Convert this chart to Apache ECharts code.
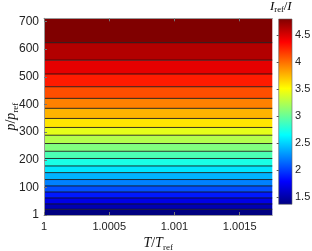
<!DOCTYPE html>
<html>
<head>
<meta charset="utf-8">
<script src="https://cdn.jsdelivr.net/npm/echarts@6/dist/echarts.min.js"></script>
<style>html,body{margin:0;padding:0;background:#fff;}#c{width:312px;height:251px;}</style>
</head>
<body>
<div id="c"></div>
<script>
// p/p_ref band edges (contour levels positions), bottom to top
var bandEdges = [1, 21.7, 41, 62.5, 84, 106, 129, 154, 178, 205, 231, 259, 289, 317, 349.5, 386, 422, 464, 510, 560, 623, 711];
// I_ref/I value of each filled band
var bandValues = [1.37, 1.54, 1.71, 1.88, 2.06, 2.23, 2.40, 2.57, 2.74, 2.91, 3.09, 3.26, 3.43, 3.60, 3.77, 3.94, 4.11, 4.28, 4.46, 4.63, 4.80];
var xRange = [1, 1.00175];
var yRange = [1, 711];
var xTicks = [1, 1.0005, 1.001, 1.0015];
var xTickLabels = ['1', '1.0005', '1.001', '1.0015'];
var yTicks = [1, 100, 200, 300, 400, 500, 600, 700];
var cbRange = [1.37, 4.8];
var cbTicks = [1.5, 2, 2.5, 3, 3.5, 4, 4.5];
var jet = ['#000080', '#0000FF', '#0080FF', '#00FFFF', '#80FF80', '#FFFF00', '#FF8000', '#FF0000', '#800000'];

var bandData = [];
for (var i = 0; i < bandValues.length; i++) {
  bandData.push([bandEdges[i], bandEdges[i + 1], bandValues[i]]);
}

var chart = echarts.init(document.getElementById('c'), null, {renderer: 'canvas'});
var serif = 'Liberation Serif';
var sans = 'Liberation Sans';

var stops = [];
for (var k = 0; k < jet.length; k++) {
  stops.push({offset: 1 - k / (jet.length - 1), color: jet[k]});
}
stops.reverse();

var richTitle = function (size, subSize, lh) {
  return {
    it: {fontFamily: serif, fontStyle: 'italic', fontSize: size, lineHeight: lh, color: '#111'},
    rm: {fontFamily: serif, fontSize: size, lineHeight: lh, color: '#111'},
    sub: {fontFamily: serif, fontSize: subSize, lineHeight: subSize, verticalAlign: 'bottom', color: '#111'}
  };
};

var option = {
  animation: false,
  grid: [
    {left: 44, top: 18.3, right: 39.7, bottom: 36, containLabel: false, outerBoundsMode: 'none'},
    {left: 278.7, width: 13.3, top: 19, bottom: 46.7, containLabel: false, outerBoundsMode: 'none'}
  ],
  graphic: [{
    type: 'text', left: 270, top: 0, z: 10,
    style: {
      text: '{it|I}{sub|ref}{rm|/}{it|I}',
      rich: richTitle(13, 8.5, 16)
    }
  }],
  xAxis: [
    {
      type: 'value', gridIndex: 0, min: xRange[0], max: xRange[1], z: 5,
      axisLine: {show: true, lineStyle: {color: '#999', width: 1}},
      axisTick: {show: true, inside: true, length: 3, lineStyle: {color: '#777'}, customValues: xTicks},
      axisLabel: {
        color: '#222', fontFamily: sans, fontSize: 11, margin: 6, customValues: xTicks, showMinLabel: true, showMaxLabel: true,
        formatter: function (v) { var idx = xTicks.indexOf(v); return idx >= 0 ? xTickLabels[idx] : ''; }
      },
      splitLine: {show: false},
      name: '{it|T}{rm|/}{it|T}{sub|ref}', nameLocation: 'middle', nameGap: 19, nameMoveOverlap: false,
      nameTextStyle: {rich: richTitle(14, 9, 18)}
    },
    {
      type: 'value', gridIndex: 0, position: 'top', min: xRange[0], max: xRange[1], z: 5,
      axisLine: {show: true, lineStyle: {color: '#999', width: 1}},
      axisTick: {show: true, inside: true, length: 3, lineStyle: {color: '#777'}, customValues: xTicks},
      axisLabel: {show: false}, splitLine: {show: false}
    },
    {
      type: 'value', gridIndex: 1, min: 0, max: 1, show: false
    }
  ],
  yAxis: [
    {
      type: 'value', gridIndex: 0, min: yRange[0], max: yRange[1], z: 5,
      axisLine: {show: true, lineStyle: {color: '#999', width: 1}},
      axisTick: {show: true, inside: true, length: 3, lineStyle: {color: '#777'}, customValues: yTicks},
      axisLabel: {color: '#222', fontFamily: sans, fontSize: 12, margin: 5, customValues: yTicks},
      splitLine: {show: false},
      name: '{it|p}{rm|/}{it|p}{sub|ref}', nameLocation: 'middle', nameGap: 24, nameRotate: 90, nameMoveOverlap: false,
      nameTextStyle: {rich: richTitle(14, 9, 18)}
    },
    {
      type: 'value', gridIndex: 1, position: 'right', min: cbRange[0], max: cbRange[1], z: 5,
      axisLine: {show: false},
      axisTick: {show: true, inside: true, length: 2, lineStyle: {color: '#555'}, customValues: cbTicks},
      axisLabel: {color: '#222', fontFamily: sans, fontSize: 11, margin: 3, customValues: cbTicks},
      splitLine: {show: false}
    }
  ],
  visualMap: {
    show: false, type: 'continuous', seriesIndex: 0, dimension: 2,
    min: cbRange[0], max: cbRange[1], inRange: {color: jet}
  },
  series: [
    {
      type: 'custom', xAxisIndex: 0, yAxisIndex: 0, clip: true,
      encode: {y: [0, 1]},
      data: bandData,
      renderItem: function (params, api) {
        var lo = api.value(0), hi = api.value(1);
        var p1 = api.coord([xRange[0], hi]);
        var p2 = api.coord([xRange[1], lo]);
        var children = [{
          type: 'rect',
          shape: {x: p1[0], y: p1[1], width: p2[0] - p1[0], height: p2[1] - p1[1]},
          style: {fill: api.visual('color'), stroke: null}
        }];
        if (params.dataIndex > 0) {
          children.push({
            type: 'line',
            shape: {x1: p1[0], y1: p2[1], x2: p2[0], y2: p2[1]},
            style: {stroke: 'rgba(20,20,20,0.85)', lineWidth: 1}
          });
        }
        return {type: 'group', children: children};
      }
    },
    {
      type: 'custom', xAxisIndex: 2, yAxisIndex: 1,
      data: [[0, cbRange[0], 1, cbRange[1]]],
      renderItem: function (params, api) {
        var a = api.coord([api.value(0), api.value(3)]);
        var b = api.coord([api.value(2), api.value(1)]);
        return {
          type: 'rect',
          shape: {x: a[0], y: a[1], width: b[0] - a[0], height: b[1] - a[1]},
          style: {
            fill: new echarts.graphic.LinearGradient(0, 0, 0, 1, stops),
            stroke: '#666', lineWidth: 0.6
          }
        };
      }
    }
  ]
};
chart.setOption(option);
</script>
</body>
</html>
